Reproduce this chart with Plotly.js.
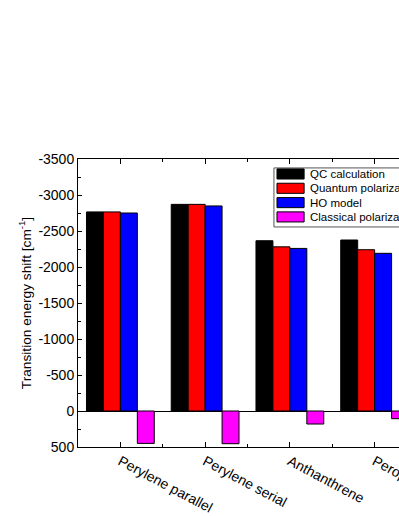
<!DOCTYPE html>
<html>
<head>
<meta charset="utf-8">
<script src="https://cdn.plot.ly/plotly-3.0.1.min.js"></script>
<style>
  html, body { margin: 0; padding: 0; overflow: hidden; background: #fff; }
  #plot { width: 470px; height: 516px; }
</style>
</head>
<body>
<div id="plot"></div>
<script>
// Values (cm^-1); negative shifts are drawn upward
const categories = ['Perylene parallel', 'Perylene serial', 'Anthanthrene', 'Peropyrene'];
const qcCalc = [-2765, -2870, -2365, -2375];
const quantumPol = [-2765, -2870, -2280, -2240];
const hoModel = [-2750, -2848, -2258, -2190];
const classicalPol = [450, 454, 181, 107];

const seriesNames = ['QC calculation', 'Quantum polarization', 'HO model', 'Classical polarization'];
const seriesColors = ['#000000', '#ff0000', '#0000ff', '#ff00ff'];

const yTickVals = [-3500, -3000, -2500, -2000, -1500, -1000, -500, 0, 500];
const yTickText = ['-3500', '-3000', '-2500', '-2000', '-1500', '-1000', '-500', '0', '500'];

const xPos = categories.map((c, i) => i);
const allValues = [qcCalc, quantumPol, hoModel, classicalPol];

const traces = allValues.map((vals, k) => ({
    type: 'bar',
    name: seriesNames[k],
    x: xPos,
    y: vals,
    marker: { color: seriesColors[k], line: { color: '#000', width: 1 } }
}));

// compact Origin-style legend (plotly's own legend rows are too tall here)
const shapes = [{
    type: 'rect', xref: 'paper', yref: 'paper',
    x0: 0.578, x1: 1.06, y0: 0.764, y1: 0.969,
    line: { color: '#555', width: 1 }, fillcolor: '#fff', layer: 'above'
}];
const annotations = [];
seriesNames.forEach((name, i) => {
    const cy = 0.948 - i * 0.0497;
    shapes.push({
        type: 'rect', xref: 'paper', yref: 'paper',
        x0: 0.587, x1: 0.667, y0: cy - 0.0175, y1: cy + 0.0175,
        line: { color: '#000', width: 1 }, fillcolor: seriesColors[i], layer: 'above'
    });
    annotations.push({
        xref: 'paper', yref: 'paper', x: 0.679, y: cy,
        xanchor: 'left', yanchor: 'middle', showarrow: false,
        text: name, font: { size: 11.5 }
    });
});

const layout = {
    width: 470,
    height: 516,
    margin: { l: 78, r: 53, t: 159, b: 69 },
    paper_bgcolor: '#fff',
    plot_bgcolor: '#fff',
    font: { family: 'Liberation Sans, Arial, sans-serif', color: '#000', size: 14 },
    barmode: 'group',
    bargap: 0.2,
    bargroupgap: 0,
    showlegend: false,
    shapes: shapes,
    annotations: annotations,
    xaxis: {
        range: [-0.5, 3.5],
        tickvals: xPos,
        ticktext: categories,
        tickangle: 28,
        ticks: 'inside', ticklen: 5, tickcolor: '#000', tickwidth: 1,
        minor: { dtick: 0.5, tick0: 0.5, ticks: 'inside', ticklen: 3, tickcolor: '#000' },
        showline: true, linecolor: '#000', linewidth: 1, mirror: 'allticks',
        showgrid: false, zeroline: false,
        tickfont: { size: 14 }
    },
    yaxis: {
        range: [500, -3500],
        tickvals: yTickVals,
        ticktext: yTickText,
        ticks: 'inside', ticklen: 4, tickcolor: '#000', tickwidth: 1,
        minor: { dtick: 250, tick0: 0, ticks: 'inside', ticklen: 3, tickcolor: '#000' },
        showline: true, linecolor: '#000', linewidth: 1, mirror: 'allticks',
        showgrid: false,
        zeroline: true, zerolinecolor: '#000', zerolinewidth: 1,
        tickfont: { size: 14 },
        title: { text: 'Transition energy shift [cm<sup>-1</sup>]', font: { size: 13.7 }, standoff: 3 }
    }
};

Plotly.newPlot('plot', traces, layout, { displayModeBar: false, staticPlot: true });
</script>
</body>
</html>
